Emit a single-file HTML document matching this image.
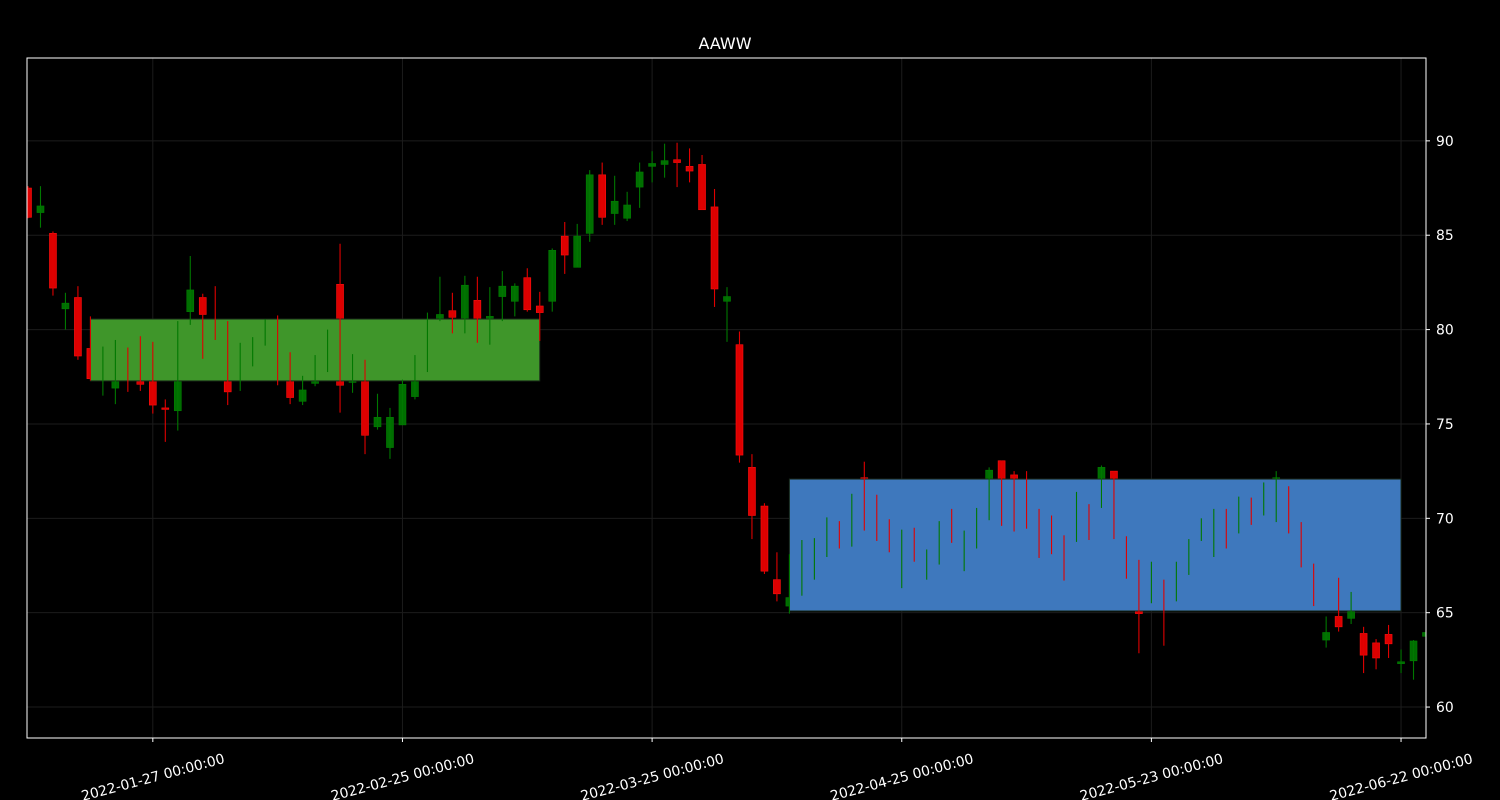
<!DOCTYPE html>
<html><head><meta charset="utf-8"><style>
html,body{margin:0;padding:0;background:#000;}
svg{display:block;font-family:"DejaVu Sans","Liberation Sans",sans-serif;}
</style></head><body>
<svg id="chart" width="1500" height="800" viewBox="0 0 1500 800">
<rect x="0" y="0" width="1500" height="800" fill="#000"/>
<text x="725" y="49" fill="#fff" font-size="16" text-anchor="middle">AAWW</text>
<defs><clipPath id="pc"><rect x="27" y="58" width="1399" height="680"/></clipPath></defs>
<g id="grid"></g>
<g id="plot" clip-path="url(#pc)"></g>
<rect x="27" y="58" width="1399" height="680" fill="none" stroke="#fff" stroke-width="1"/>
<g id="axes"></g>
</svg>
<script>
const opens=[87.5,86.2,85.1,81.1,81.7,79.0,77.6,76.9,77.8,77.25,77.3,75.85,75.7,80.95,81.7,80.2,77.4,77.6,78.3,79.4,79.0,77.4,76.2,77.15,78.3,82.4,77.2,77.3,74.85,73.75,74.95,76.45,78.5,80.55,81.0,80.3,81.55,80.6,81.75,81.5,82.75,81.25,81.5,84.95,83.3,85.1,88.2,86.15,85.9,87.55,88.65,88.75,89.0,88.65,88.75,86.5,81.5,79.2,72.7,70.65,66.75,65.35,66.8,67.5,68.6,69.5,69.0,72.15,70.8,69.6,67.5,69.0,67.2,68.2,70.2,68.0,68.9,71.5,73.05,72.3,72.0,70.2,69.8,68.6,69.2,70.5,71.5,72.5,68.6,65.5,66.0,66.0,66.0,67.4,69.0,68.5,70.0,69.8,70.8,70.5,72.05,71.5,69.5,67.0,63.55,64.8,64.7,63.9,63.4,63.85,62.3,62.45,63.75];
const highs=[87.6,87.6,85.2,81.95,82.3,80.7,79.1,79.45,79.05,79.65,79.35,76.3,80.45,83.9,81.9,82.3,80.45,79.3,79.6,80.55,80.75,78.8,77.55,78.65,80.0,84.55,78.7,78.4,76.6,75.85,77.35,78.65,80.9,82.8,81.95,82.85,82.8,82.25,83.1,82.45,83.25,82.0,84.3,85.7,85.6,88.45,88.85,88.15,87.3,88.85,89.45,89.85,89.9,89.6,89.25,87.45,82.25,79.9,73.4,70.8,68.2,68.1,68.85,68.95,70.05,69.85,71.3,73.0,71.25,69.95,69.4,69.5,68.35,69.85,70.5,69.35,70.55,72.7,73.05,72.5,72.5,70.5,70.15,69.1,71.4,70.75,72.8,72.5,69.05,67.8,67.7,66.75,67.7,68.9,70.0,70.5,70.5,71.15,71.1,71.9,72.5,71.7,69.8,67.6,64.8,66.85,66.1,64.25,63.6,64.35,63.05,63.55,64.0];
const lows=[85.9,85.4,81.8,80.0,78.4,77.3,76.5,76.05,76.7,76.75,75.55,74.05,74.65,80.25,78.45,79.45,76.0,76.75,78.05,79.15,77.05,76.05,76.0,77.0,77.75,75.6,76.65,73.4,74.7,73.15,74.95,76.3,77.75,80.45,79.8,79.8,79.3,79.2,80.45,80.7,80.95,79.4,80.95,82.95,83.3,84.65,85.55,85.55,85.75,86.45,87.8,88.05,87.55,87.8,86.35,81.2,79.35,72.95,68.9,67.05,65.6,64.95,65.9,66.75,67.95,68.4,68.5,69.35,68.8,68.2,66.3,67.7,66.75,67.55,68.7,67.2,68.4,69.9,69.6,69.3,69.45,67.9,68.1,66.7,68.75,68.85,70.55,68.9,66.8,62.85,65.5,63.25,65.6,67.0,68.8,67.95,68.4,69.2,69.65,70.15,69.8,69.2,67.4,65.35,63.15,64.0,64.4,61.8,62.0,62.6,61.8,61.45,63.7];
const closes=[85.95,86.55,82.2,81.4,78.6,77.4,78.0,77.6,77.5,77.1,76.0,75.8,77.5,82.1,80.8,79.8,76.7,78.2,78.9,79.9,78.2,76.4,76.8,77.25,78.8,77.05,77.3,74.4,75.35,75.35,77.1,77.5,79.5,80.8,80.65,82.35,80.3,80.7,82.3,82.3,81.05,80.9,84.2,83.95,84.95,88.2,85.95,86.8,86.6,88.35,88.8,88.95,88.85,88.4,86.35,82.15,81.75,73.35,70.15,67.2,66.0,65.8,67.9,68.3,69.5,68.9,70.8,72.05,69.3,68.6,68.9,68.0,68.0,69.5,69.2,69.0,70.3,72.55,71.5,71.0,70.5,68.4,68.5,67.2,70.9,69.3,72.7,70.0,67.2,64.95,67.2,65.5,67.2,68.5,69.7,70.0,68.9,70.8,70.1,71.5,72.15,70.0,67.8,65.6,63.95,64.25,65.05,62.75,62.6,63.35,62.4,63.5,63.95];
const zoneStart=[5,61];
const zoneEnd=[41,110];
const zoneTop=[80.56,72.08];
const zoneBottom=[77.28,65.09];
const yTicks=[60,65,70,75,80,85,90];
const xTickIdx=[10,30,50,70,90,110];
const xTickLabels=["2022-01-27 00:00:00","2022-02-25 00:00:00","2022-03-25 00:00:00","2022-04-25 00:00:00","2022-05-23 00:00:00","2022-06-22 00:00:00"];

const NS="http://www.w3.org/2000/svg";
const X0=27,X1=1426,Y0=58,Y1=738;
const xMin=-0.08,xMax=112,yMin=58.36,yMax=94.39;
function xs(i){return X0+(i-xMin)/(xMax-xMin)*(X1-X0);}
function ys(v){return Y1-(v-yMin)/(yMax-yMin)*(Y1-Y0);}
function mk(tag,attrs,parent){const e=document.createElementNS(NS,tag);for(const k in attrs)e.setAttribute(k,attrs[k]);parent.appendChild(e);return e;}
const grid=document.getElementById('grid'),plot=document.getElementById('plot'),axes=document.getElementById('axes');

yTicks.forEach(v=>{
  const y=ys(v);
  const g=mk('line',{x1:X0,x2:X1,y1:y,y2:y,stroke:'#1c1c1c','stroke-width':1},grid);
  
  
  const t=mk('line',{x1:X1,x2:X1+4,y1:y,y2:y,stroke:'#fff','stroke-width':1},axes);
  
  
  const l=mk('text',{x:X1+10,y:y+5,fill:'#fff','font-size':13.9},axes);
  l.textContent=v;
  
  
});
xTickIdx.forEach((i,k)=>{
  const x=xs(i);
  const g=mk('line',{x1:x,x2:x,y1:Y0,y2:Y1,stroke:'#1c1c1c','stroke-width':1},grid);
  
  
  const t=mk('line',{x1:x,x2:x,y1:Y1,y2:Y1+4,stroke:'#fff','stroke-width':1},axes);
  
  
  const l=mk('text',{x:x,y:Y1+44,fill:'#fff','font-size':13.9,'text-anchor':'middle',transform:'rotate(-15 '+x+' '+(Y1+39)+')'},axes);
  l.textContent=xTickLabels[k];
  
  
});

const bodies=mk('g',{},plot),zones=mk('g',{},plot),wicks=mk('g',{},plot);
const W=7;
for(let i=0;i<opens.length;i++){
  const up=closes[i]>=opens[i];
  const fill=up?'#006e00':'#dc0000',edge=up?'#008000':'#ff1010';
  const x=xs(i);
  const top=ys(Math.max(opens[i],closes[i])),bot=ys(Math.min(opens[i],closes[i]));
  const b=mk('rect',{x:x-W/2,y:top,width:W,height:Math.max(bot-top,1.5),fill:fill,stroke:edge,'stroke-width':0.6},bodies);
  
  
  const w=mk('line',{x1:x,x2:x,y1:ys(highs[i]),y2:ys(lows[i]),stroke:up?'#007800':'#e00000','stroke-width':1.1},wicks);
  
  
}
const zoneColors=['#3f962a','#3e78bd'];
for(let k=0;k<zoneStart.length;k++){
  const x1=xs(zoneStart[k]),x2=xs(zoneEnd[k]);
  const r=mk('rect',{x:x1,y:ys(zoneTop[k]),width:x2-x1,height:ys(zoneBottom[k])-ys(zoneTop[k]),fill:zoneColors[k],stroke:'#1a2a1a','stroke-width':1},zones);
  
  
}
</script>
</body></html>
